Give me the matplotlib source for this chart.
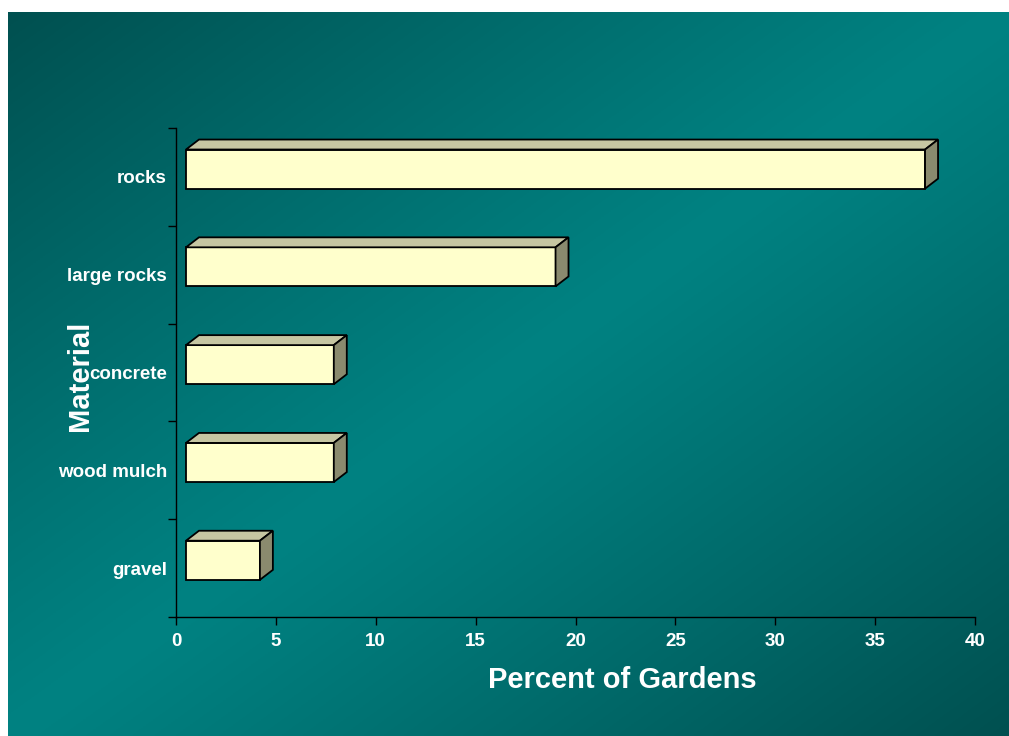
import numpy as np
import matplotlib
matplotlib.use("Agg")
import matplotlib.pyplot as plt
from matplotlib.patches import Polygon

plt.rcParams['font.family'] = ['Liberation Sans', 'DejaVu Sans']

# Survey results: share of gardens using each material
materials = ["gravel", "wood mulch", "concrete", "large rocks", "rocks"]
percents = [3.7, 7.4, 7.4, 18.5, 37.0]
x_ticks = [0, 5, 10, 15, 20, 25, 30, 35, 40]

W, H = 1009, 736
fig = plt.figure(figsize=(W / 100, H / 100), dpi=100)
fig.patch.set_facecolor("white")

# Teal slide background: dark at two corners, bright along the anti-diagonal
bg = fig.add_axes([8 / W, 0, 1 - 8 / W, (H - 12) / H])
bg.set_axis_off()
nx, ny = 400, 300
gx, gy = np.meshgrid(np.linspace(0, 1, nx), np.linspace(0, 1, ny))
v = np.clip(np.abs(gx + gy - 1.0), 0, 1) ** 1.1
bright = np.array([0, 130, 130]) / 255
dark = np.array([0, 80, 80]) / 255
img = bright[None, None, :] * (1 - v[..., None]) + dark[None, None, :] * v[..., None]
bg.imshow(img, aspect="auto", extent=[0, 1, 0, 1], origin="upper")

ax = fig.add_axes([176 / W, (H - 617) / H, (975 - 176) / W, (617 - 128) / H])
ax.set_facecolor("none")
ax.set_xlim(0, 40)
ax.set_ylim(-0.5, len(materials) - 0.5)

# 3-D look of each bar: front face, top face and right side face
x0 = 0.5          # front face start, pushed off the wall
ddx = 0.65        # depth in value units
ddy = 0.102       # depth in category units
lift = 0.08       # front face raised above category centre
half = 0.2        # half height of the front face
front_c, top_c, side_c = "#FFFFCC", "#C6C6A2", "#8A8A6E"

for i, val in enumerate(percents):
    yb = i + lift - half
    yt = i + lift + half
    xr = x0 + val
    front = Polygon([(x0, yb), (xr, yb), (xr, yt), (x0, yt)], closed=True,
                    facecolor=front_c, edgecolor="black", lw=1.3, zorder=3)
    top = Polygon([(x0, yt), (xr, yt), (xr + ddx, yt + ddy), (x0 + ddx, yt + ddy)],
                  closed=True, facecolor=top_c, edgecolor="black", lw=1.3, zorder=3)
    side = Polygon([(xr, yb), (xr + ddx, yb + ddy), (xr + ddx, yt + ddy), (xr, yt)],
                   closed=True, facecolor=side_c, edgecolor="black", lw=1.3, zorder=3)
    for p in (front, top, side):
        ax.add_patch(p)

for s in ("top", "right"):
    ax.spines[s].set_visible(False)
for s in ("left", "bottom"):
    ax.spines[s].set_color("black")
    ax.spines[s].set_linewidth(1.0)

ax.set_xticks(x_ticks)
ax.set_xticklabels([str(t) for t in x_ticks])
ax.set_yticks(np.arange(len(materials)))
ax.set_yticklabels(materials)
ax.set_yticks(np.arange(-0.5, len(materials), 1.0), minor=True)
ax.tick_params(axis="y", which="major", length=0, pad=6.5, labelsize=13.5,
               labelcolor="white")
ax.tick_params(axis="y", which="minor", length=5.8, width=1.0, color="black",
               direction="out")
ax.tick_params(axis="x", length=5.8, width=1.0, color="black", direction="out",
               pad=5.5, labelsize=13.5, labelcolor="white")
for lab in ax.get_xticklabels() + ax.get_yticklabels():
    lab.set_fontweight("bold")

fig.text(622 / W, 1 - 680 / H, "Percent of Gardens", color="white",
         fontsize=21, fontweight="bold", ha="center", va="center")
fig.text(80 / W, 1 - 376 / H, "Material", color="white", fontsize=21,
         fontweight="bold", ha="center", va="center", rotation=90)

fig.savefig("out.png", dpi=100, facecolor=fig.get_facecolor())
